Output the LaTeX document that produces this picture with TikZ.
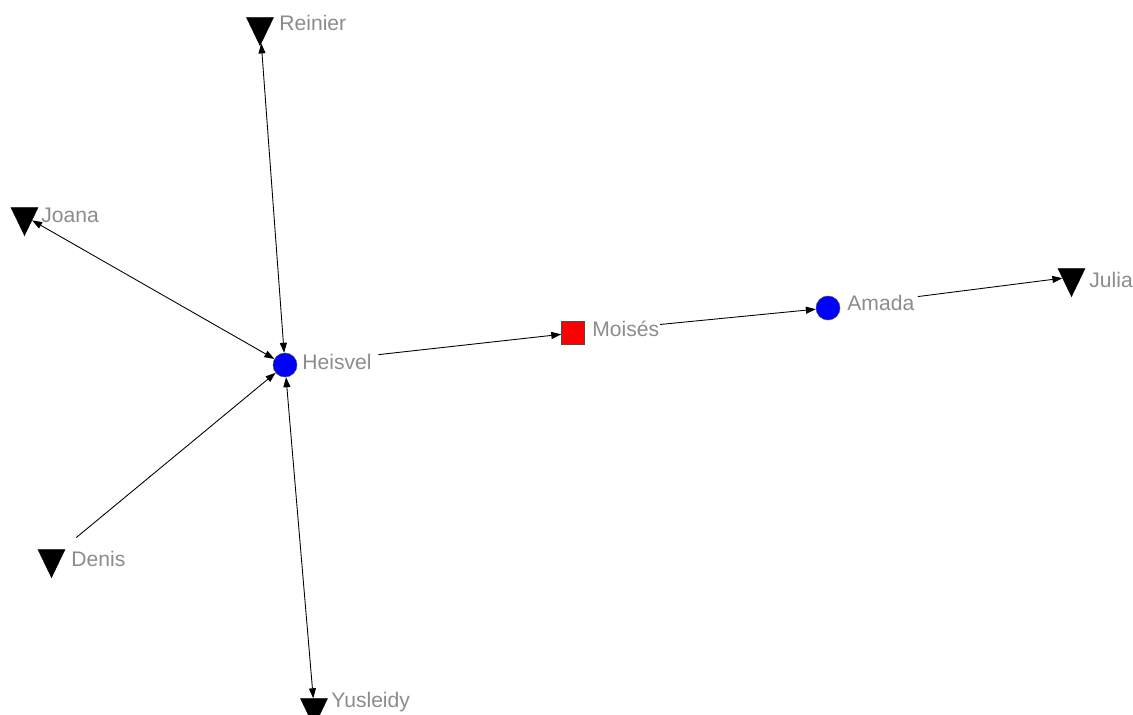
\documentclass[tikz,border=0pt]{standalone}
\usepackage{fontspec}
\setmainfont{Liberation Sans}
\usetikzlibrary{shapes.geometric, arrows.meta, positioning}

\definecolor{lblgray}{RGB}{140,140,140}
\definecolor{egoblue}{RGB}{0,0,255}
\definecolor{egored}{RGB}{255,0,0}

\begin{document}
\begin{tikzpicture}[x=0.03cm, y=-0.03cm, >={Triangle[length=3mm, width=2.1mm]},
   actor/.style={draw, fill=black, isosceles triangle, isosceles triangle apex angle=52,
      isosceles triangle stretches, shape border rotate=270, inner sep=0pt,
      minimum width=0.81cm, minimum height=0.84cm},
   hub/.style={draw=black!70, fill=egoblue, circle, inner sep=0pt, minimum size=0.72cm},
   broker/.style={draw=black!70, fill=egored, rectangle, inner sep=0pt, minimum size=0.69cm},
   lbl/.style={anchor=west, inner sep=1pt, text=lblgray, font=\fontsize{18}{20}\selectfont,
      text height=0.75em, text depth=0.25em},
   tie/.style={line width=0.75pt}]
\useasboundingbox (0,0) rectangle (1133,714);

% Triangle actors
\foreach \name/\x/\y/\word/\lx/\ly in {reinier/260/26/Reinier/278/28, joana/24.5/216/Joana/40/220,
      denis/51.5/558/Denis/70/564, yusleidy/314/707/Yusleidy/330/705, julia/1071.5/277/Julia/1088/285} {
   \node[actor] (\name) at (\x, \y) {};
   \node[lbl] (\name-lab) at (\lx, \ly) {\word};
}

% Central actors
\node[hub] (heisvel) at (285, 365) {};
\node[lbl] (heisvel-lab) at (301, 367) {Heisvel};
\node[broker] (moises) at (573, 333) {};
\node[lbl] (moises-lab) at (591, 334) {Moisés};
\node[hub] (amada) at (828, 308) {};
\node[lbl] (amada-lab) at (846, 308) {Amada};

% Ties
\draw[tie, <->] (reinier) -- (heisvel);
\draw[tie, <->] (joana) -- (heisvel);
\draw[tie, ->, shorten <=0.55cm] (denis) -- (heisvel);
\draw[tie, <->] (heisvel) -- (yusleidy);
\draw[tie, ->, shorten <=2.45cm] (heisvel) -- (moises);
\draw[tie, ->, shorten <=2.27cm] (moises) -- (amada);
\draw[tie, ->, shorten <=2.35cm] (amada) -- (julia);
\end{tikzpicture}
\end{document}
